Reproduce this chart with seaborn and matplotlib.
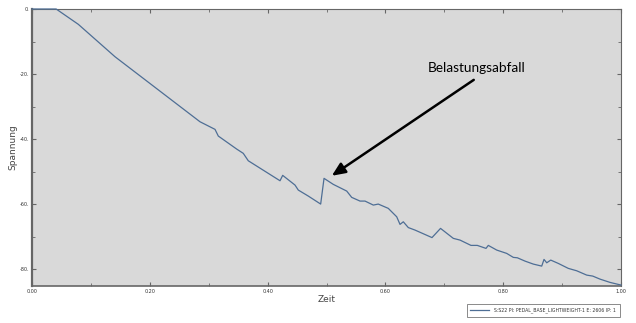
import matplotlib
matplotlib.use("Agg")
import matplotlib.pyplot as plt
import seaborn as sns
import pandas as pd
from matplotlib.ticker import MultipleLocator, FixedLocator, FixedFormatter

# ---- data ----
zeit = [0.0, 0.041, 0.0786, 0.1409, 0.2852, 0.3107, 0.3163, 0.3475, 0.3587, 0.3672,
        0.4211, 0.4256, 0.4465, 0.4521, 0.4691, 0.4901, 0.4958, 0.5115, 0.5343, 0.5428,
        0.5569, 0.5654, 0.5795, 0.5879, 0.6049, 0.6192, 0.6248, 0.6304, 0.6389, 0.6503,
        0.6791, 0.6936, 0.7153, 0.7267, 0.7453, 0.7560, 0.7708, 0.7747, 0.7890, 0.8059,
        0.8172, 0.8240, 0.8370, 0.8511, 0.8654, 0.8693, 0.8739, 0.8807, 0.8935, 0.9105,
        0.9248, 0.9418, 0.9520, 0.9643, 0.9813, 0.9954, 1.0]
spannung = [0.0, 0.0, -4.71, -14.68, -34.68, -37.02, -39.08, -43.08, -44.40, -46.68,
            -52.83, -51.17, -54.15, -55.69, -57.54, -60.0, -52.09, -53.94, -56.0, -57.94,
            -59.08, -59.08, -60.31, -60.0, -61.32, -63.91, -66.25, -65.45, -67.23, -68.0,
            -70.31, -67.48, -70.55, -71.08, -72.71, -72.71, -73.63, -72.71, -74.15, -75.17,
            -76.40, -76.52, -77.54, -78.46, -79.08, -77.02, -78.06, -77.23, -78.25, -79.78,
            -80.52, -81.85, -82.15, -83.08, -84.09, -84.71, -84.9]
series_name = "S:S22 PI: PEDAL_BASE_LIGHTWEIGHT-1 E: 2606 IP: 1"
x_ticks = [0.0, 0.2, 0.4, 0.6, 0.8, 1.0]
x_tick_labels = ["0.00", "0.20", "0.40", "0.60", "0.80", "1.00"]
y_ticks = [0, -20, -40, -60, -80]
y_tick_labels = ["0.", "-20.", "-40.", "-60.", "-80."]
annotation_text = "Belastungsabfall"
x_label = "Zeit"
y_label = "Spannung"

df = pd.DataFrame({"Zeit": zeit, "Spannung": spannung, "Serie": series_name})

fig = plt.figure(figsize=(6.36, 3.23), dpi=100)
ax = fig.add_axes([32/636, 1-286/323, (621-32)/636, (286-9)/323])
ax.set_facecolor("#d9d9d9")

sns.lineplot(data=df, x="Zeit", y="Spannung", ax=ax, color="#4e6e95",
             linewidth=0.9, legend=False, label=series_name, sort=False)
for ln in ax.lines:
    ln.set_clip_on(False)
    ln.set_zorder(5)

ax.set_xlim(0, 1.0)
ax.set_ylim(-85.2, 0)

ax.xaxis.set_major_locator(FixedLocator(x_ticks))
ax.xaxis.set_major_formatter(FixedFormatter(x_tick_labels))
ax.xaxis.set_minor_locator(MultipleLocator(0.1))
ax.yaxis.set_major_locator(FixedLocator(y_ticks))
ax.yaxis.set_major_formatter(FixedFormatter(y_tick_labels))
ax.yaxis.set_minor_locator(MultipleLocator(10))

ax.tick_params(axis="both", which="both", direction="in", top=True, right=True,
               color="#666666", labelsize=3.5, labelcolor="#333333", pad=2)
ax.tick_params(which="major", length=3, width=0.8)
ax.tick_params(which="minor", length=2, width=0.6)

for side, sp in ax.spines.items():
    sp.set_color("#666666")
    sp.set_linewidth(0.8)
ax.spines["left"].set_linewidth(1.6)
ax.spines["bottom"].set_linewidth(1.2)

ax.set_xlabel(x_label, fontsize=6.5, color="#444444", labelpad=1)
ax.set_ylabel(y_label, fontsize=6.5, color="#444444", labelpad=2)

# annotation
ax.annotate("", xy=(0.509, -51.3), xytext=(0.750, -21.8),
            arrowprops=dict(arrowstyle="-|>,head_length=0.8,head_width=0.35",
                            color="black", lw=1.8, shrinkA=0, shrinkB=0))
ax.text(0.755, -18.3, annotation_text, fontsize=9.8, family=["Lato", "DejaVu Sans"],
        ha="center", va="center", color="black")

# legend below right
h, l = ax.get_legend_handles_labels()
leg = fig.legend(h, l, loc="center right", bbox_to_anchor=(622/636, 1-310.5/323),
                 fontsize=3.3, frameon=True, fancybox=False, edgecolor="#555555",
                 handlelength=4, borderpad=0.8, handletextpad=1.2, labelcolor="#333333")
leg.get_frame().set_linewidth(0.6)

fig.savefig("out.png", dpi=100, facecolor="white")
